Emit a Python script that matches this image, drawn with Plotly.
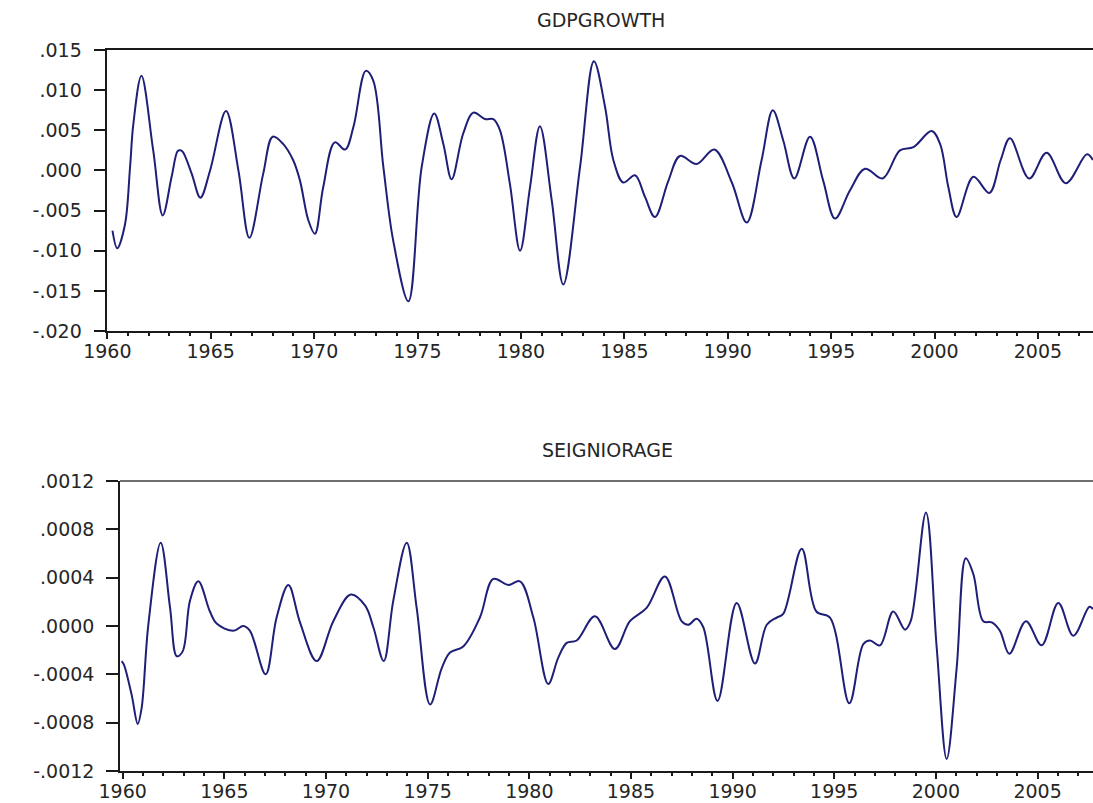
import plotly.graph_objects as go

# ---------------- data ----------------
gdp_dates = [1960.25, 1960.48, 1960.85, 1961.10, 1961.26, 1961.65, 1962.22, 1962.68,
             1963.11, 1963.40, 1963.52, 1963.65, 1964.08, 1964.50, 1964.97, 1965.74,
             1966.34, 1966.87, 1967.54, 1968.00, 1968.50, 1969.00, 1969.32, 1969.72,
             1970.04, 1970.44, 1971.00, 1971.50, 1971.90, 1972.50, 1972.86, 1973.35,
             1973.83, 1974.56, 1975.20, 1975.81, 1976.25, 1976.65, 1977.21, 1977.70,
             1978.26, 1978.67, 1978.99, 1979.47, 1979.96, 1980.44, 1980.92, 1981.49,
             1982.05, 1982.86, 1983.53, 1984.07, 1984.47, 1984.95, 1985.52, 1986.00,
             1986.48, 1987.13, 1987.69, 1988.50, 1989.35, 1990.20, 1990.92, 1991.64,
             1992.18, 1992.69, 1993.22, 1993.98, 1994.62, 1995.19, 1995.91, 1996.64,
             1997.49, 1998.33, 1998.98, 1999.86, 2000.27, 2000.67, 2001.07, 2001.88,
             2002.65, 2003.20, 2003.65, 2004.58, 2005.42, 2006.35, 2007.37, 2007.66]
gdp_values = [-0.0075, -0.0097, -0.0068, 0.0004, 0.0058, 0.0118, 0.0025, -0.0056,
              -0.0008, 0.0024, 0.0025, 0.0023, -0.0004, -0.0034, 0.0000, 0.0074,
              0.0000, -0.0084, -0.0004, 0.0042, 0.0033, 0.0012, -0.0013, -0.0062,
              -0.0079, -0.0021, 0.0035, 0.0026, 0.0054, 0.0124, 0.0112, 0.0004,
              -0.0088, -0.0163, 0.0004, 0.0071, 0.0033, -0.0011, 0.0046, 0.0072,
              0.0064, 0.0064, 0.0050, -0.0017, -0.0100, -0.0021, 0.0055, -0.0037,
              -0.0142, 0.0004, 0.0136, 0.0079, 0.0013, -0.0015, -0.0006, -0.0033,
              -0.0058, -0.0013, 0.0018, 0.0008, 0.0026, -0.0015, -0.0065, 0.0013,
              0.0075, 0.0037, -0.0010, 0.0042, -0.0013, -0.0060, -0.0025, 0.0002,
              -0.0010, 0.0025, 0.0029, 0.0049, 0.0033, -0.0021, -0.0058, -0.0008,
              -0.0028, 0.0013, 0.0040, -0.0010, 0.0022, -0.0016, 0.0020, 0.0013]

seig_dates = [1959.95, 1960.06, 1960.44, 1960.74, 1960.93, 1961.26, 1961.87, 1962.33,
              1962.66, 1962.95, 1963.31, 1963.72, 1964.29, 1964.62, 1965.44, 1965.93,
              1966.26, 1967.03, 1967.57, 1968.15, 1968.72, 1969.54, 1970.36, 1971.22,
              1971.92, 1972.33, 1972.84, 1973.31, 1973.97, 1974.46, 1975.12, 1975.69,
              1976.10, 1976.75, 1977.57, 1978.23, 1978.97, 1979.54, 1980.20, 1980.93,
              1981.43, 1981.84, 1982.33, 1983.23, 1984.21, 1984.95, 1985.77, 1986.67,
              1987.49, 1987.82, 1988.23, 1988.56, 1989.26, 1990.20, 1991.10, 1991.68,
              1992.17, 1992.49, 1993.40, 1994.12, 1994.79, 1995.74, 1996.43, 1996.76,
              1997.25, 1997.90, 1998.48, 1998.76, 1999.51, 2000.04, 2000.53, 2001.02,
              2001.47, 2001.84, 2002.33, 2002.75, 2003.15, 2003.61, 2004.43, 2005.20,
              2006.02, 2006.76, 2007.55, 2007.73]
seig_values = [-0.00029, -0.00032, -0.00057, -0.00081, -0.00068, 0.00001, 0.00069, 0.00015,
               -0.00025, -0.00021, 0.00021, 0.00037, 0.00012, 0.00002, -0.00004, 0.00000,
               -0.00004, -0.00040, 0.00007, 0.00034, 0.00003, -0.00029, 0.00004, 0.00026,
               0.00017, -0.00001, -0.00029, 0.00021, 0.00069, 0.00015, -0.00065, -0.00035,
               -0.00022, -0.00017, 0.00007, 0.00039, 0.00034, 0.00037, 0.00007, -0.00048,
               -0.00026, -0.00014, -0.00012, 0.00008, -0.00019, 0.00004, 0.00015, 0.00041,
               0.00004, 0.00001, 0.00006, -0.00001, -0.00062, 0.00019, -0.00031, 0.00001,
               0.00007, 0.00010, 0.00064, 0.00012, 0.00007, -0.00064, -0.00015, -0.00012,
               -0.00016, 0.00012, -0.00003, 0.00004, 0.00094, -0.00018, -0.00110, -0.00035,
               0.00056, 0.00043, 0.00004, 0.00003, -0.00004, -0.00023, 0.00004, -0.00016,
               0.00019, -0.00008, 0.00016, 0.00014]

gdp_tick_vals = [0.015, 0.010, 0.005, 0.0, -0.005, -0.010, -0.015, -0.020]
gdp_tick_text = [".015", ".010", ".005", ".000", "-.005", "-.010", "-.015", "-.020"]
seig_tick_vals = [0.0012, 0.0008, 0.0004, 0.0, -0.0004, -0.0008, -0.0012]
seig_tick_text = [".0012", ".0008", ".0004", ".0000", "-.0004", "-.0008", "-.0012"]
year_tick_vals = [1960, 1965, 1970, 1975, 1980, 1985, 1990, 1995, 2000, 2005]
year_tick_text = ["1960", "1965", "1970", "1975", "1980", "1985", "1990", "1995", "2000", "2005"]
titles = ["GDPGROWTH", "SEIGNIORAGE"]

# ---------------- figure ----------------
W, H = 1093, 803
LINE = "#1f1f78"
AXC = "#1a1a1a"
FONT = dict(family="DejaVu Sans, Arial, sans-serif", size=19, color="#262626")

fig = go.Figure()
fig.add_trace(go.Scatter(x=gdp_dates, y=gdp_values, mode="lines",
                         line=dict(color=LINE, width=2, shape="spline", smoothing=1.0),
                         xaxis="x", yaxis="y", showlegend=False, hoverinfo="skip"))
fig.add_trace(go.Scatter(x=seig_dates, y=seig_values, mode="lines",
                         line=dict(color=LINE, width=2, shape="spline", smoothing=1.0),
                         xaxis="x2", yaxis="y2", showlegend=False, hoverinfo="skip"))


def xax(left_px, rng, anchor, mirror):
    return dict(domain=[left_px / W, 1.0], range=rng, automargin=False,
                anchor=anchor,
                showline=True, linecolor=AXC, linewidth=1.5, mirror=mirror,
                showgrid=False, zeroline=False, fixedrange=True,
                tickmode="array", tickvals=year_tick_vals, ticktext=year_tick_text,
                ticks="outside", ticklen=6, tickwidth=1.5, tickcolor=AXC,
                ticklabelstandoff=-4, tickfont=FONT,
                minor=dict(tickmode="linear", tick0=1960, dtick=1, ticks="outside",
                           ticklen=3, tickwidth=1.5, tickcolor=AXC, showgrid=False))


def yax(top_px, bottom_px, rng, vals, text, anchor):
    return dict(domain=[(H - bottom_px) / H, (H - top_px) / H], range=rng,
                automargin=False, anchor=anchor,
                showline=True, linecolor=AXC, linewidth=1.5, mirror=False,
                showgrid=False, zeroline=False, fixedrange=True,
                tickmode="array", tickvals=vals, ticktext=text,
                ticks="outside", ticklen=12, tickwidth=1.5, tickcolor=AXC,
                ticklabelstandoff=8, tickfont=FONT)


top_x0 = 107.3
bot_x0 = 120.0
fig.update_layout(
    width=W, height=H,
    margin=dict(l=0, r=0, t=0, b=0, pad=0),
    paper_bgcolor="white", plot_bgcolor="white",
    showlegend=False,
    xaxis=xax(top_x0, [1960.0, 1960.0 + (W - top_x0) / 20.68], "y", True),
    yaxis=yax(50, 331, [-0.020, 0.015], gdp_tick_vals, gdp_tick_text, "x"),
    xaxis2=xax(bot_x0, [1960.0 - 2.7 / 20.33, 1960.0 + (W - 122.7) / 20.33], "y2", False),
    yaxis2=yax(481, 771, [-0.0012, 0.0012], seig_tick_vals, seig_tick_text, "x2"),
    shapes=[dict(type="line", xref="x2 domain", yref="y2 domain", x0=0, x1=1, y0=1, y1=1,
                 line=dict(color="#6e6e6e", width=2))],
    annotations=[
        dict(text=titles[0], x=601 / W, y=(H - 20) / H, xref="paper", yref="paper",
             showarrow=False, xanchor="center", yanchor="middle", font=FONT),
        dict(text=titles[1], x=607 / W, y=(H - 450) / H, xref="paper", yref="paper",
             showarrow=False, xanchor="center", yanchor="middle", font=FONT),
    ],
)

# remove the default page margin so the figure fills the window exactly
fig.write_html("out.html", config={"displayModeBar": False},
               post_script="document.body.style.margin='0';"
                           "document.body.style.overflow='hidden';")
